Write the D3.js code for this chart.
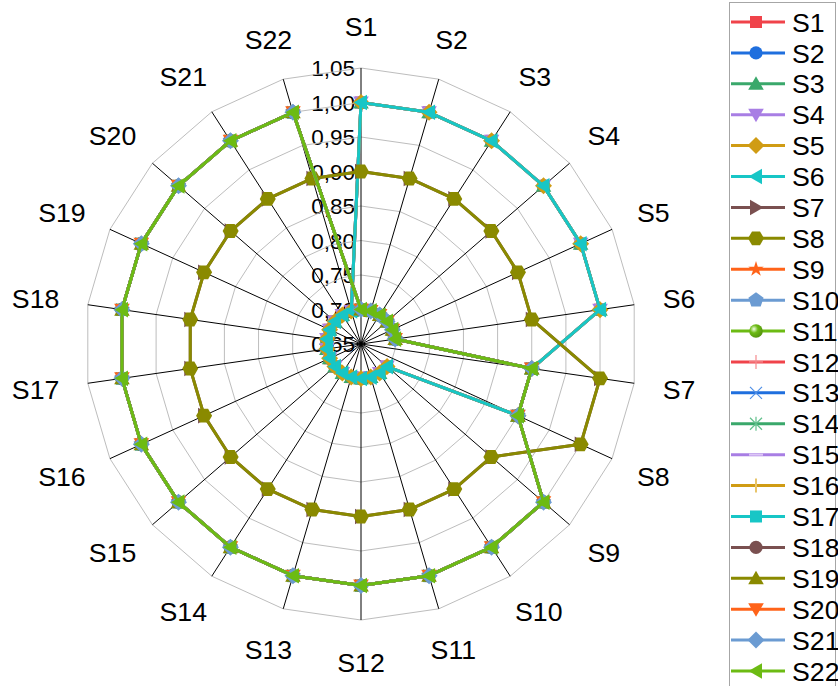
<!DOCTYPE html>
<html>
<head>
<meta charset="utf-8">
<script src="https://cdn.jsdelivr.net/npm/d3@7"></script>
<style>
  body { margin: 0; background: #fff; }
  text { font-family: "Liberation Sans", Arial, sans-serif; fill: #000; }
</style>
</head>
<body>
<div id="chart"></div>
<script>
// axes of the radar
const categories = ["S1","S2","S3","S4","S5","S6","S7","S8","S9","S10","S11",
                    "S12","S13","S14","S15","S16","S17","S18","S19","S20","S21","S22"];

const seriesNames = ["S1","S2","S3","S4","S5","S6","S7","S8","S9","S10","S11",
                     "S12","S13","S14","S15","S16","S17","S18","S19","S20","S21","S22"];

const ticks      = [0.65, 0.70, 0.75, 0.80, 0.85, 0.90, 0.95, 1.00, 1.05];
const tickLabels = ["0,65","0,70","0,75","0,80","0,85","0,90","0,95","1,00","1,05"];

// one row per series, one value per axis S1..S22
const values = [
  [1,1,1,1,1,1,0.9,0.9,0.7,0.7,0.7,0.7,0.7,0.7,0.7,0.7,0.7,0.7,0.7,0.7,0.7,0.7], // S1
  [1,1,1,1,1,1,0.9,0.9,0.7,0.7,0.7,0.7,0.7,0.7,0.7,0.7,0.7,0.7,0.7,0.7,0.7,0.7], // S2
  [1,1,1,1,1,1,0.9,0.9,0.7,0.7,0.7,0.7,0.7,0.7,0.7,0.7,0.7,0.7,0.7,0.7,0.7,0.7], // S3
  [1,1,1,1,1,1,0.9,0.9,0.7,0.7,0.7,0.7,0.7,0.7,0.7,0.7,0.7,0.7,0.7,0.7,0.7,0.7], // S4
  [1,1,1,1,1,1,0.9,0.9,0.7,0.7,0.7,0.7,0.7,0.7,0.7,0.7,0.7,0.7,0.7,0.7,0.7,0.7], // S5
  [1,1,1,1,1,1,0.9,0.9,0.7,0.7,0.7,0.7,0.7,0.7,0.7,0.7,0.7,0.7,0.7,0.7,0.7,0.7], // S6
  [0.9,0.9,0.9,0.9,0.9,0.9,1,1,0.9,0.9,0.9,0.9,0.9,0.9,0.9,0.9,0.9,0.9,0.9,0.9,0.9,0.9], // S7
  [0.9,0.9,0.9,0.9,0.9,0.9,1,1,0.9,0.9,0.9,0.9,0.9,0.9,0.9,0.9,0.9,0.9,0.9,0.9,0.9,0.9], // S8
  [0.7,0.7,0.7,0.7,0.7,0.7,0.9,0.9,1,1,1,1,1,1,1,1,1,1,1,1,1,1], // S9
  [0.7,0.7,0.7,0.7,0.7,0.7,0.9,0.9,1,1,1,1,1,1,1,1,1,1,1,1,1,1], // S10
  [0.7,0.7,0.7,0.7,0.7,0.7,0.9,0.9,1,1,1,1,1,1,1,1,1,1,1,1,1,1], // S11
  [0.7,0.7,0.7,0.7,0.7,0.7,0.9,0.9,1,1,1,1,1,1,1,1,1,1,1,1,1,1], // S12
  [0.7,0.7,0.7,0.7,0.7,0.7,0.9,0.9,1,1,1,1,1,1,1,1,1,1,1,1,1,1], // S13
  [0.7,0.7,0.7,0.7,0.7,0.7,0.9,0.9,1,1,1,1,1,1,1,1,1,1,1,1,1,1], // S14
  [0.7,0.7,0.7,0.7,0.7,0.7,0.9,0.9,1,1,1,1,1,1,1,1,1,1,1,1,1,1], // S15
  [0.7,0.7,0.7,0.7,0.7,0.7,0.9,0.9,1,1,1,1,1,1,1,1,1,1,1,1,1,1], // S16
  [0.7,0.7,0.7,0.7,0.7,0.7,0.9,0.9,1,1,1,1,1,1,1,1,1,1,1,1,1,1], // S17
  [0.7,0.7,0.7,0.7,0.7,0.7,0.9,0.9,1,1,1,1,1,1,1,1,1,1,1,1,1,1], // S18
  [0.7,0.7,0.7,0.7,0.7,0.7,0.9,0.9,1,1,1,1,1,1,1,1,1,1,1,1,1,1], // S19
  [0.7,0.7,0.7,0.7,0.7,0.7,0.9,0.9,1,1,1,1,1,1,1,1,1,1,1,1,1,1], // S20
  [0.7,0.7,0.7,0.7,0.7,0.7,0.9,0.9,1,1,1,1,1,1,1,1,1,1,1,1,1,1], // S21
  [0.7,0.7,0.7,0.7,0.7,0.7,0.9,0.9,1,1,1,1,1,1,1,1,1,1,1,1,1,1]  // S22
];

// styles (kept apart from the data)
const palette = ["#f0434a","#1f6fde","#3aa86b","#a87ee4","#d09c14","#17c6c6",
                 "#7a5050","#8a8a00","#ff6319","#6b9bd2","#6cbb13"];
const markerTypes = ["square","circle","triUp","triDown","diamond","triLeft","triRight","hexagon",
                     "star","pentagon","ball","plus","times","asterisk","dash","vline",
                     "square","circle","triUp","triDown","diamond","triLeft"];
const lightMarks = {plus:"#f58a8e", times:"#4f8fe6", asterisk:"#62c08c", dash:"#dcc6f6", vline:"#e8c56a"};

const width = 838, height = 686;
const cx = 361, cy = 344, R = 276;

const svg = d3.select("#chart").append("svg")
              .attr("width", width).attr("height", height);

const defs = svg.append("defs");
palette.forEach((c, i) => {
  const grad = defs.append("radialGradient").attr("id", "ball" + i)
                   .attr("cx", "35%").attr("cy", "35%").attr("r", "65%");
  grad.append("stop").attr("offset", "0%").attr("stop-color", "#f4ffe8");
  grad.append("stop").attr("offset", "45%").attr("stop-color", c);
  grad.append("stop").attr("offset", "100%").attr("stop-color", d3.color(c).darker(0.6));
});

const r = d3.scaleLinear().domain([ticks[0], ticks[ticks.length - 1]]).range([0, R]);
const angle = d3.scaleLinear().domain([0, categories.length]).range([0, 2 * Math.PI]);

const g = svg.append("g").attr("transform", `translate(${cx},${cy})`);

// radial tick labels along the S1 axis
g.append("g").selectAll("text").data(ticks).join("text")
  .attr("x", -6).attr("y", d => -r(d)).attr("dy", "0.36em")
  .attr("text-anchor", "end").style("font-size", "22.5px")
  .text((d, i) => tickLabels[i]);

// grid polygons
const ring = v => d3.lineRadial()
                    .angle((d, i) => angle(i))
                    .radius(r(v))
                    .curve(d3.curveLinearClosed)(categories);

g.append("g").selectAll("path").data(ticks.slice(1)).join("path")
  .attr("d", d => ring(d))
  .attr("fill", "none").attr("stroke", "#bdbdbd").attr("stroke-width", 1);

// spokes
g.append("g").selectAll("line").data(categories).join("line")
  .attr("x1", 0).attr("y1", 0)
  .attr("x2", (d, i) => R * Math.sin(angle(i)))
  .attr("y2", (d, i) => -R * Math.cos(angle(i)))
  .attr("stroke", "#000").attr("stroke-width", 1);

// category labels outside the outer ring
const catG = g.append("g");
categories.forEach((c, i) => {
  const a = angle(i), s = Math.sin(a), co = Math.cos(a);
  const t = catG.append("text").style("font-size", "26.7px")
                .attr("text-anchor", "middle").attr("dy", "0.36em").text(c);
  const w = t.node().getComputedTextLength();
  const d = R + 29;
  t.attr("x", d * s + s * w / 2).attr("y", -d * co - co * 13);
});

// marker drawing
function polygon(n, rad, rot) {
  const p = d3.path();
  for (let k = 0; k < n; k++) {
    const a = rot + k * 2 * Math.PI / n;
    const x = rad * Math.sin(a), y = -rad * Math.cos(a);
    k ? p.lineTo(x, y) : p.moveTo(x, y);
  }
  p.closePath();
  return p.toString();
}

function drawMarker(sel, type, color, idx) {
  const light = lightMarks[type];
  let m;
  switch (type) {
    case "square":   m = sel.append("path").attr("d", polygon(4, 8.5, Math.PI / 4)); break;
    case "circle":   m = sel.append("circle").attr("r", 6.6); break;
    case "triUp":    m = sel.append("path").attr("d", polygon(3, 9, 0)).attr("transform", "translate(0,1.5)"); break;
    case "triDown":  m = sel.append("path").attr("d", polygon(3, 9, Math.PI)).attr("transform", "translate(0,-1.5)"); break;
    case "triLeft":  m = sel.append("path").attr("d", polygon(3, 9, -Math.PI / 2)).attr("transform", "translate(1.5,0)"); break;
    case "triRight": m = sel.append("path").attr("d", polygon(3, 9, Math.PI / 2)).attr("transform", "translate(-1.5,0)"); break;
    case "diamond":  m = sel.append("path").attr("d", polygon(4, 8.5, 0)); break;
    case "hexagon":  m = sel.append("path").attr("d", polygon(6, 8, Math.PI / 6)); break;
    case "pentagon": m = sel.append("path").attr("d", polygon(5, 8, 0)); break;
    case "star":     m = sel.append("path").attr("d", d3.symbol(d3.symbolStar, 75)()); break;
    case "ball":
      sel.append("circle").attr("r", 6.8).attr("fill", `url(#ball${idx % palette.length})`);
      return;
    case "plus":
      sel.append("path").attr("d", "M-7,0H7M0,-7V7").attr("stroke", light).attr("stroke-width", 1.2).attr("fill", "none");
      return;
    case "times":
      sel.append("path").attr("d", "M-6,-6L6,6M-6,6L6,-6").attr("stroke", light).attr("stroke-width", 1.2).attr("fill", "none");
      return;
    case "asterisk":
      sel.append("path").attr("d", "M-6,-6L6,6M-6,6L6,-6M0,-7V7").attr("stroke", light).attr("stroke-width", 1.2).attr("fill", "none");
      return;
    case "dash":
      sel.append("path").attr("d", "M-7,0H7").attr("stroke", light).attr("stroke-width", 2).attr("fill", "none");
      return;
    case "vline":
      sel.append("path").attr("d", "M0,-7V7").attr("stroke", light).attr("stroke-width", 2).attr("fill", "none");
      return;
  }
  m.attr("fill", color);
}

const lineGen = d3.lineRadial()
                  .angle((d, i) => angle(i))
                  .radius(d => r(d))
                  .curve(d3.curveLinearClosed);

// series, drawn in order so S22 ends on top
const seriesG = g.append("g");
values.forEach((row, k) => {
  const color = palette[k % palette.length];
  const sg = seriesG.append("g");
  sg.append("path").attr("d", lineGen(row))
    .attr("fill", "none").attr("stroke", color)
    .attr("stroke-width", 3).attr("stroke-linejoin", "round");
  row.forEach((v, i) => {
    const a = angle(i);
    const mg = sg.append("g")
                 .attr("transform", `translate(${r(v) * Math.sin(a)},${-r(v) * Math.cos(a)})`);
    drawMarker(mg, markerTypes[k], color, k);
  });
});

// legend
const legend = svg.append("g");
legend.append("rect")
  .attr("x", 729.5).attr("y", 2.5).attr("width", 106).attr("height", 700)
  .attr("fill", "#fff").attr("stroke", "#a6a6a6").attr("stroke-width", 1);

const legY = d3.scaleLinear().domain([0, seriesNames.length - 1]).range([22, 671]);

seriesNames.forEach((name, k) => {
  const color = palette[k % palette.length];
  const y = legY(k);
  const row = legend.append("g").attr("transform", `translate(0,${y})`);
  row.append("line").attr("x1", 731).attr("x2", 785).attr("y1", 0).attr("y2", 0)
     .attr("stroke", color).attr("stroke-width", 3);
  drawMarker(row.append("g").attr("transform", "translate(756,0)"), markerTypes[k], color, k);
  row.append("text").attr("x", 792).attr("y", 0).attr("dy", "0.36em")
     .style("font-size", "26.7px").text(name);
});
</script>
</body>
</html>
